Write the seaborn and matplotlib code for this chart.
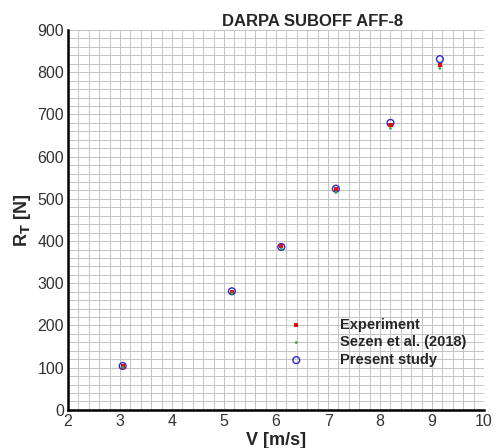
import pandas as pd
import matplotlib
matplotlib.use("Agg")
import matplotlib.pyplot as plt
import seaborn as sns
from matplotlib.ticker import MultipleLocator

# Data
velocity = [3.05, 5.15, 6.1, 7.15, 8.2, 9.15]
experiment = [103, 280, 388, 523, 674, 818]
sezen_2018 = [101, 276, 381, 515, 667, 809]
present_study = [104, 281, 386, 524, 680, 831]

sns.set_style("white")
plt.rcParams['font.family'] = ['Liberation Sans', 'DejaVu Sans']

fig = plt.figure(figsize=(4.97, 4.48), dpi=100)
ax = fig.add_axes([0.137, 0.085, 0.837, 0.848])

df = pd.DataFrame({"V": velocity, "Experiment": experiment,
                   "Sezen et al. (2018)": sezen_2018, "Present study": present_study})

sns.scatterplot(data=df, x="V", y="Present study", ax=ax, marker="o", s=24,
                facecolor="none", edgecolor="#2b2bd0", linewidth=1.0,
                label="Present study", zorder=3)
sns.scatterplot(data=df, x="V", y="Experiment", ax=ax, marker="s", s=9,
                color="#e01010", edgecolor="none", label="Experiment", zorder=4)
sns.scatterplot(data=df, x="V", y="Sezen et al. (2018)", ax=ax, marker="o", s=4,
                color="#30b030", edgecolor="none", label="Sezen et al. (2018)", zorder=4)

ax.set_xlim(2, 10)
ax.set_ylim(0, 900)
ax.xaxis.set_major_locator(MultipleLocator(1))
ax.xaxis.set_minor_locator(MultipleLocator(0.2))
ax.yaxis.set_major_locator(MultipleLocator(100))
ax.yaxis.set_minor_locator(MultipleLocator(20))

ax.grid(which="both", color="#c4c4c4", linewidth=0.7)
ax.set_axisbelow(True)

for side in ["top", "right"]:
    ax.spines[side].set_visible(False)
for side in ["left", "bottom"]:
    ax.spines[side].set_linewidth(1.8)
    ax.spines[side].set_color("black")

ax.tick_params(which="major", direction="in", length=7, width=1.6,
               labelsize=11.5, color="black", labelcolor="#333333", pad=3)
ax.tick_params(which="minor", direction="in", length=3.5, width=1.0, color="black")
ax.tick_params(top=False, right=False)

ax.set_xlabel("V [m/s]", fontsize=13, fontweight="bold", labelpad=2)
ax.set_ylabel(r"R$_\mathbf{T}$ [N]", fontsize=13, fontweight="bold", labelpad=3)

fig.text(0.628, 0.952, "DARPA SUBOFF AFF-8", ha="center", va="center",
         fontsize=12, fontweight="bold")

handles, labels = ax.get_legend_handles_labels()
order = [labels.index(l) for l in ["Experiment", "Sezen et al. (2018)", "Present study"]]
ax.legend([handles[i] for i in order], [labels[i] for i in order],
          loc="upper left", bbox_to_anchor=(0.51, 0.262), frameon=False,
          prop={"weight": "bold", "size": 10.5}, handletextpad=2.4,
          handlelength=1.2, labelspacing=0.25, borderpad=0)

fig.savefig("out.png", dpi=100)
